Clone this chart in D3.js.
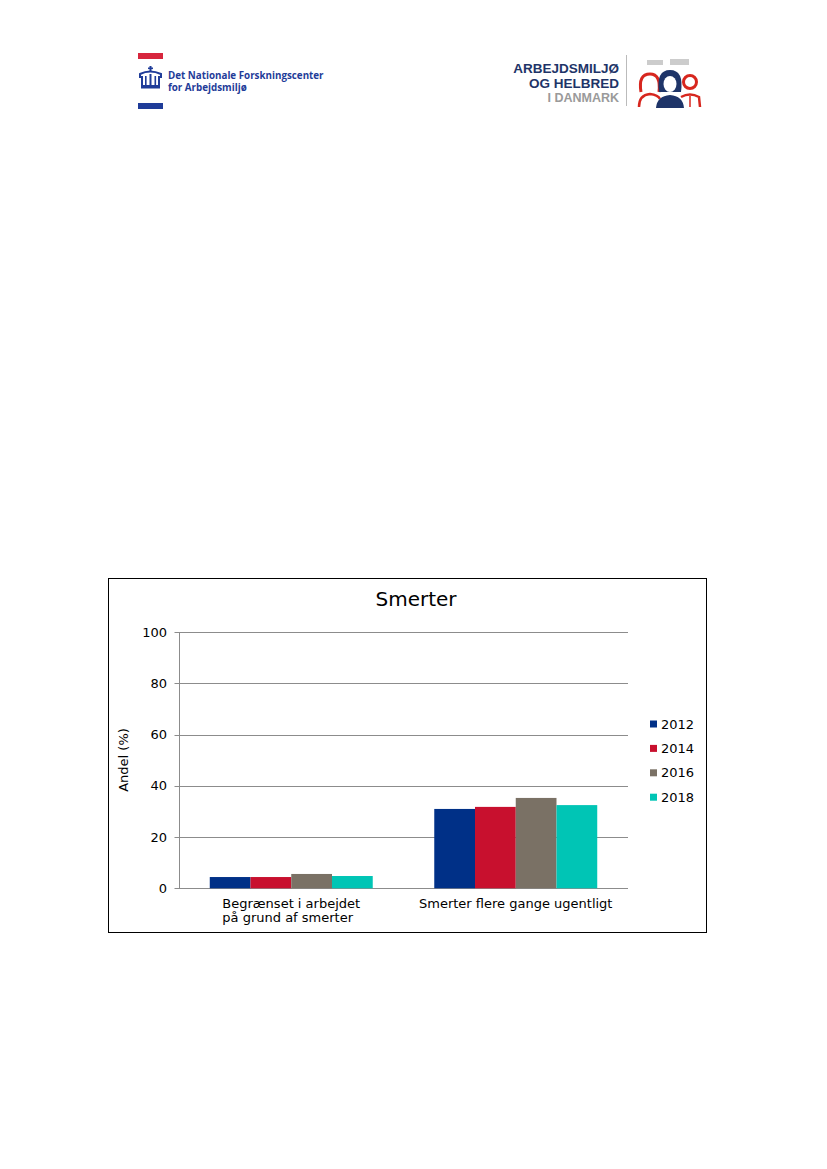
<!DOCTYPE html>
<html><head><meta charset="utf-8">
<script src="https://cdn.jsdelivr.net/npm/d3@7"></script>
<style>body{margin:0;background:#fff}svg{display:block}</style>
</head><body>
<svg id="c" width="827" height="1169"></svg>
<script>
const categories = [["Begrænset i arbejdet", "på grund af smerter"], ["Smerter flere gange ugentligt"]];
const years = ["2012", "2014", "2016", "2018"];
const values2012 = [4.4, 31.0];
const values2014 = [4.4, 31.8];
const values2016 = [5.6, 35.3];
const values2018 = [4.8, 32.5];
const yTicks = [0, 20, 40, 60, 80, 100];
const colors = ["#003087", "#c8102e", "#7a7165", "#00c5b5"];
const series = [values2012, values2014, values2016, values2018];

const svg = d3.select("#c");
const font = "DejaVu Sans, Verdana, sans-serif";

// ---- Header logos ----
const L = svg.append("g");
L.append("rect").attr("x",138).attr("y",53).attr("width",25).attr("height",6).attr("fill","#d7263d");
L.append("rect").attr("x",138).attr("y",103).attr("width",25).attr("height",6).attr("fill","#1f3c99");
// crown
const cr = L.append("g").attr("fill","#1f3c99");
cr.append("rect").attr("x",149.5).attr("y",66).attr("width",2).attr("height",5);
cr.append("rect").attr("x",148).attr("y",67.5).attr("width",5).attr("height",1.6);
cr.append("path").attr("d","M140,74 Q150,69 161,74 L161,77 L159,77 L159,86 L142,86 L142,77 L140,77 Z").attr("fill","none").attr("stroke","#1f3c99").attr("stroke-width",2);
cr.append("rect").attr("x",149.5).attr("y",74).attr("width",2).attr("height",12);
cr.append("rect").attr("x",145).attr("y",76).attr("width",1.6).attr("height",10);
cr.append("rect").attr("x",154.5).attr("y",76).attr("width",1.6).attr("height",10);
cr.append("rect").attr("x",141).attr("y",86).attr("width",19).attr("height",2.5);
const lf = "Open Sans, DejaVu Sans, sans-serif";
L.append("text").attr("x",168).attr("y",79).attr("font-family",lf).attr("font-weight","bold").attr("font-size",9.8).attr("fill","#1f3c99").text("Det Nationale Forskningscenter");
L.append("text").attr("x",168).attr("y",90.5).attr("font-family",lf).attr("font-weight","bold").attr("font-size",9.8).attr("fill","#1f3c99").text("for Arbejdsmiljø");

const R = svg.append("g").attr("font-family","Liberation Sans, Arial, sans-serif").attr("font-weight","bold").attr("text-anchor","end");
R.append("text").attr("x",619).attr("y",73).attr("font-size",13.5).attr("fill","#1e3468").text("ARBEJDSMILJØ");
R.append("text").attr("x",619).attr("y",88).attr("font-size",13.5).attr("fill","#1e3468").text("OG HELBRED");
R.append("text").attr("x",619).attr("y",102).attr("font-size",12.5).attr("fill","#9a9a9a").text("I DANMARK");
svg.append("line").attr("x1",626.5).attr("x2",626.5).attr("y1",55).attr("y2",106).attr("stroke","#bbb");
// icons
const ic = svg.append("g");
ic.append("rect").attr("x",647).attr("y",60).attr("width",16).attr("height",5).attr("fill","#ccc");
ic.append("rect").attr("x",670).attr("y",59).attr("width",19).attr("height",6).attr("fill","#ccc");
// left woman
ic.append("path").attr("d","M641,92 Q638,74 650,74 Q661,74 659,92").attr("fill","none").attr("stroke","#d7261e").attr("stroke-width",3);
ic.append("path").attr("d","M639,107 Q639,95 650,94 Q658,95 660,99").attr("fill","none").attr("stroke","#d7261e").attr("stroke-width",2.5);
// right man
ic.append("circle").attr("cx",690).attr("cy",82).attr("r",6.5).attr("fill","none").attr("stroke","#d7261e").attr("stroke-width",3);
ic.append("path").attr("d","M681,97 Q690,92 699,97 L700,107").attr("fill","none").attr("stroke","#d7261e").attr("stroke-width",2.5);
ic.append("line").attr("x1",690).attr("x2",690).attr("y1",96).attr("y2",107).attr("stroke","#d7261e").attr("stroke-width",1.5);
// center woman
ic.append("path").attr("d","M659,92 Q656,70 670,70 Q684,70 681,92 Z").attr("fill","#1e3468");
ic.append("ellipse").attr("cx",670).attr("cy",84).attr("rx",6.5).attr("ry",8).attr("fill","#fff");
ic.append("path").attr("d","M656,108 Q657,96 670,95 Q683,96 684,108 Z").attr("fill","#1e3468");

// ---- Chart box ----
svg.append("rect").attr("x",108.5).attr("y",578.5).attr("width",598).attr("height",354).attr("fill","#fff").attr("stroke","#000").attr("stroke-width",1);

const plotL = 179, plotR = 628, plotT = 632.3, plotB = 888.3;
const x0 = d3.scaleBand().domain(d3.range(categories.length)).range([plotL, plotR]).paddingInner(0).paddingOuter(0);
const x1 = d3.scaleBand().domain(years).range([0, x0.bandwidth()]).paddingInner(0).paddingOuter(0.755);
const y = d3.scaleLinear().domain([0, 100]).range([plotB, plotT]);

// gridlines
svg.append("g").selectAll("line").data(yTicks).join("line")
  .attr("x1", plotL - 4.5).attr("x2", plotR)
  .attr("y1", d => Math.round(y(d)) + 0.5).attr("y2", d => Math.round(y(d)) + 0.5)
  .attr("stroke", "#8c8c8c").attr("stroke-width", 1);
svg.append("line").attr("x1", plotL + 0.5).attr("x2", plotL + 0.5).attr("y1", plotT).attr("y2", plotB + 0.5).attr("stroke", "#8c8c8c");

// y axis labels
svg.append("g").selectAll("text").data(yTicks).join("text")
  .attr("x", 167).attr("y", d => y(d) + 4.5).attr("text-anchor", "end")
  .attr("font-family", font).attr("font-size", 13).attr("fill", "#000").text(d => d);

// bars
const g = svg.append("g");
series.forEach((vals, si) => {
  g.selectAll(null).data(vals).join("rect")
    .attr("x", (d, i) => x0(i) + x1(years[si]))
    .attr("width", x1.bandwidth())
    .attr("y", d => y(d))
    .attr("height", d => plotB - y(d))
    .attr("fill", colors[si]);
});

// category labels
categories.forEach((lines, i) => {
  const cx = x0(i) + x0.bandwidth() / 2;
  const t = svg.append("text").attr("font-family", font).attr("font-size", 13).attr("fill", "#000");
  const first = t.append("tspan").attr("x", cx).attr("y", 908).text(lines[0]);
  const w = first.node().getComputedTextLength();
  first.attr("x", cx - w / 2);
  for (let k = 1; k < lines.length; k++) {
    t.append("tspan").attr("x", cx - w / 2).attr("y", 908 + 14 * k).text(lines[k]);
  }
});

// title
svg.append("text").attr("x", 416).attr("y", 606).attr("text-anchor", "middle")
  .attr("font-family", font).attr("font-size", 20).attr("fill", "#000").text("Smerter");

// y axis title
svg.append("text").attr("transform", "translate(128,760) rotate(-90)").attr("text-anchor", "middle")
  .attr("font-family", font).attr("font-size", 13).attr("fill", "#000").text("Andel (%)");

// legend
const lg = svg.append("g");
years.forEach((yr, i) => {
  const yy = 724 + i * 24.4;
  lg.append("rect").attr("x", 650).attr("y", yy - 3.5).attr("width", 7).attr("height", 7).attr("fill", colors[i]);
  lg.append("text").attr("x", 661).attr("y", yy + 4.5).attr("font-family", font).attr("font-size", 13).attr("fill", "#000").text(yr);
});
</script>
</body></html>
